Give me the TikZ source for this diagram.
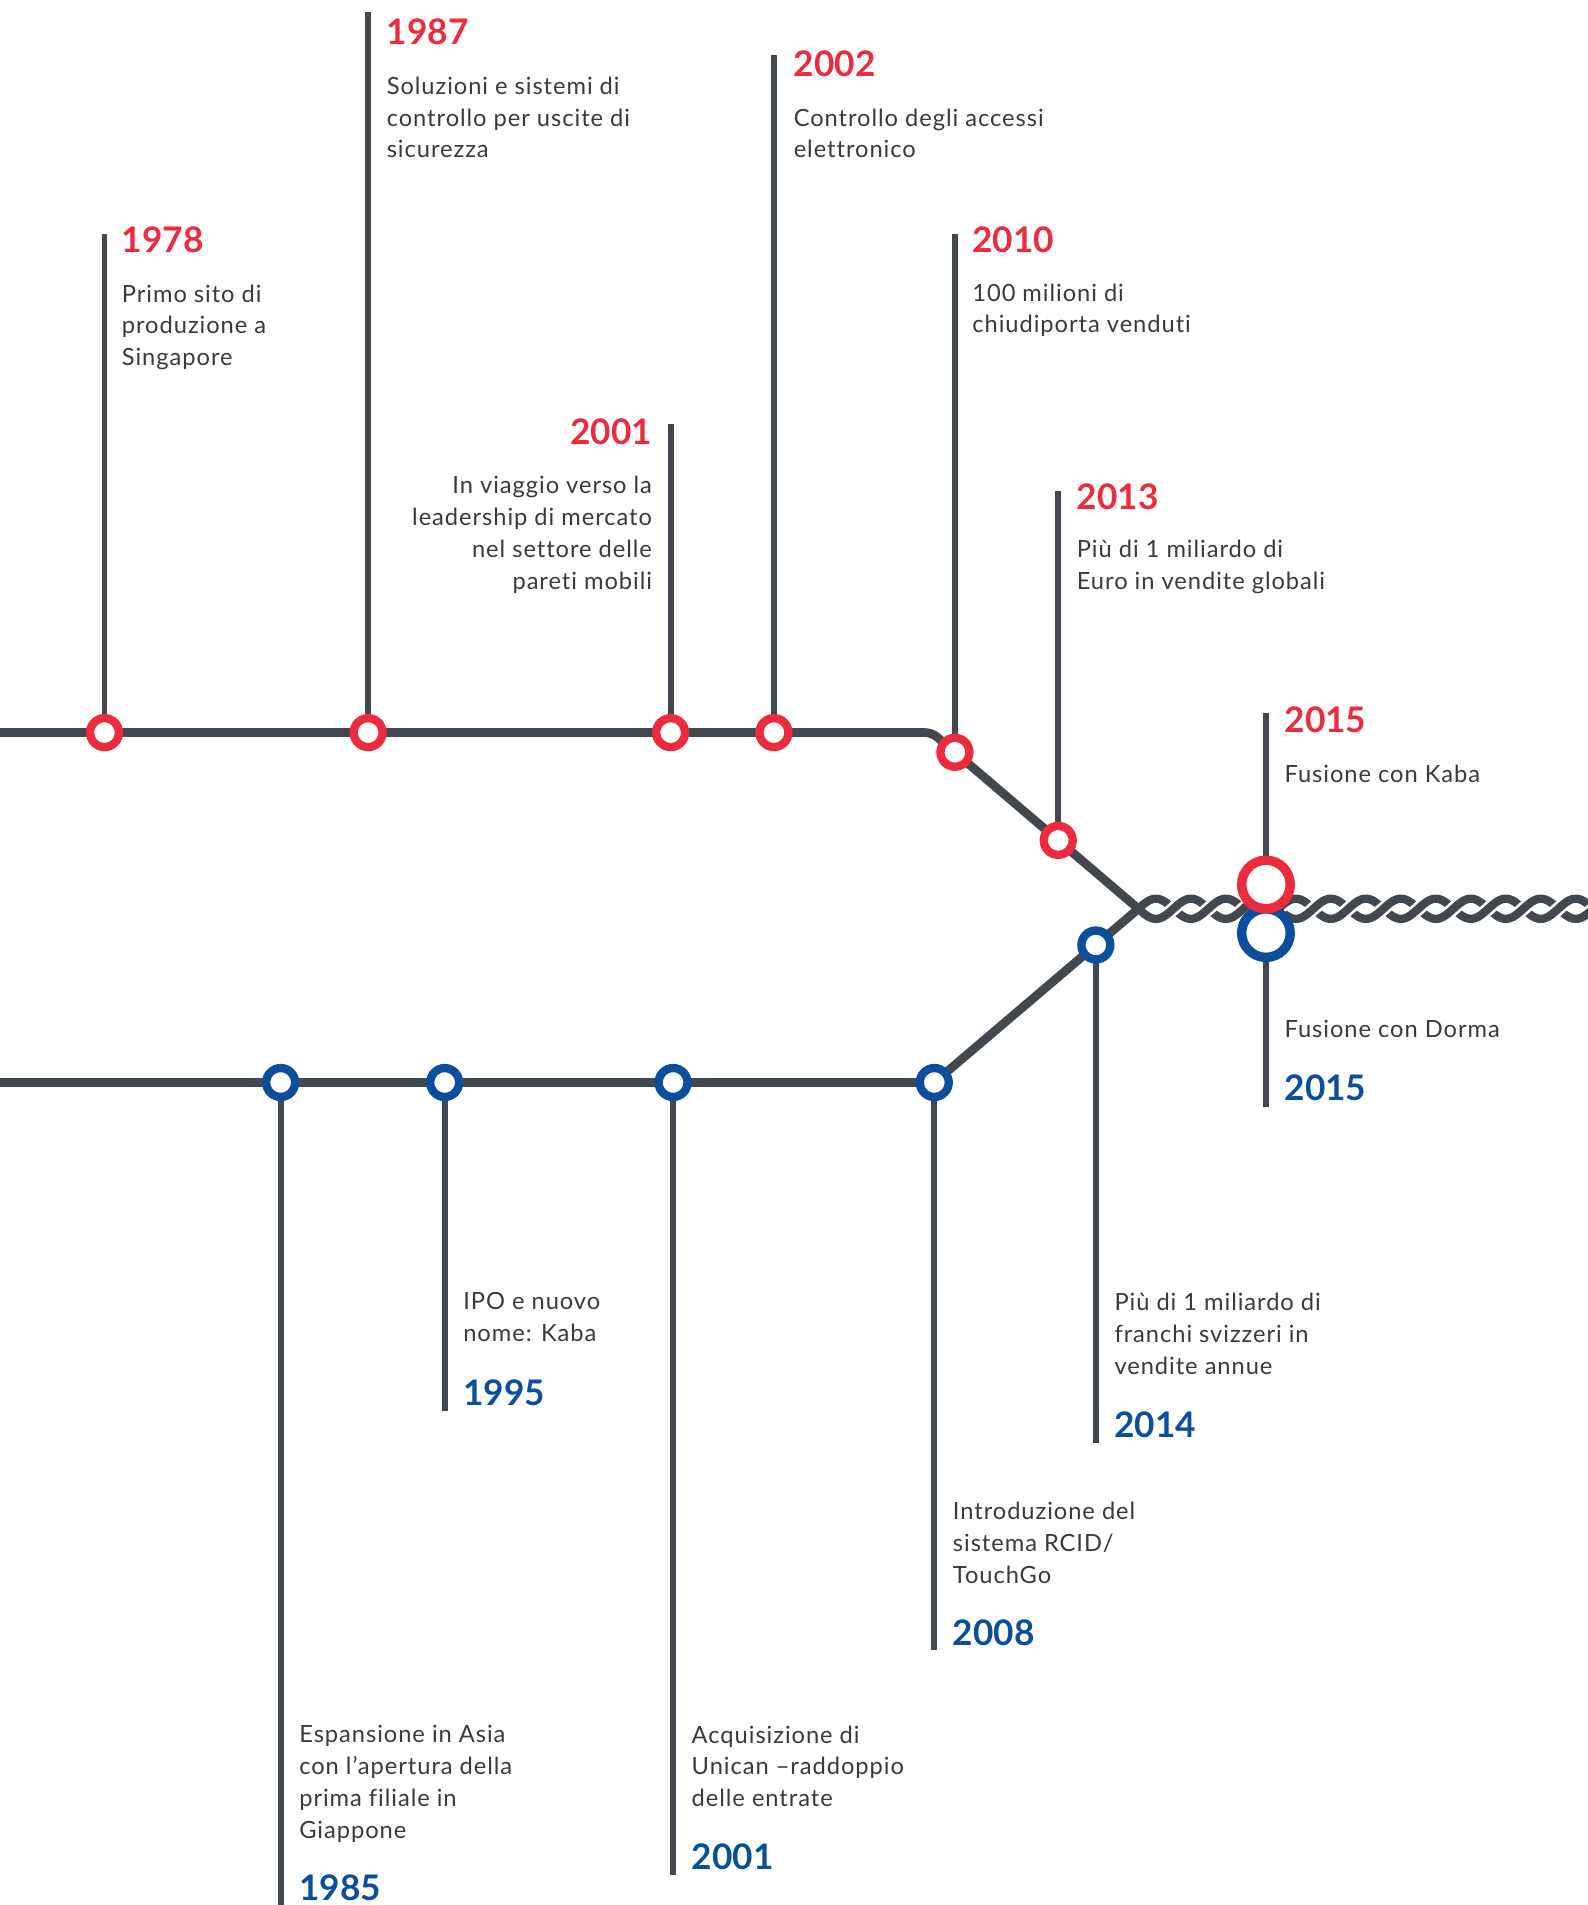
\documentclass[tikz,border=0pt]{standalone}
\usepackage{fontspec}
\setmainfont{Lato}
\newfontfamily\descfont{Lato}[LetterSpace=4, Ligatures=NoCommon]
\usetikzlibrary{backgrounds}

\definecolor{kred}{HTML}{EC2B3E}
\definecolor{kblue}{HTML}{0B4F9C}
\definecolor{kgray}{HTML}{42484D}
\definecolor{ktext}{HTML}{3A3A3A}

\tikzset{
  mainline/.style={kgray, line width=4.1pt},
  stem/.style={kgray, line width=2.7pt},
  dotred/.style={circle, draw=kred, fill=white, line width=3.9pt, minimum size=0.476cm, inner sep=0pt},
  dotblue/.style={dotred, draw=kblue},
  bigred/.style={dotred, line width=4.4pt, minimum size=0.8cm},
  bigblue/.style={bigred, draw=kblue},
  yearred/.style={text=kred, font=\fontsize{16.5}{18}\selectfont\bfseries, inner sep=0pt, anchor=base west},
  yearblue/.style={yearred, text=kblue},
  % base of a multi-line node = baseline of its last line
  desc/.style={text=ktext, font=\descfont\fontsize{11.1}{14.9}\selectfont, align=left, inner sep=0pt, anchor=base west},
  rope/.style={kgray, line width=3.9pt},
}

\begin{document}
\begin{tikzpicture}[x=0.02cm, y=-0.02cm]
    \useasboundingbox (0,0) rectangle (1307,1568);
    \clip (0,0) rectangle (1307,1568);

    % stations on the top line
    \node[dotred] (d1978) at (86,603) {};
    \node[dotred] (d1987) at (303,603) {};
    \node[dotred] (d2001a) at (552,603) {};
    \node[dotred] (d2002) at (637,603) {};
    \node[dotred] (d2010) at (786,619.2) {};
    \node[dotred] (d2013) at (871,691.7) {};
    % stations on the bottom line
    \node[dotblue] (d1985) at (231,891) {};
    \node[dotblue] (d1995) at (366,891) {};
    \node[dotblue] (d2001b) at (554,891) {};
    \node[dotblue] (d2008) at (769,891) {};
    \node[dotblue] (d2014) at (902,777.8) {};
    % merger
    \node[bigblue] (d2015b) at (1042,768) {};
    \node[bigred] (d2015a) at (1042,728) {};

    \coordinate (tstart) at (0,603);
    \coordinate (tbend) at (767,603);
    \coordinate (bstart) at (0,891);
    \coordinate (join) at (937,748);

    \coordinate (t1978) at (86,193);
    \coordinate (t1987) at (303,10);
    \coordinate (t2001a) at (552,349);
    \coordinate (t2002) at (637,45);
    \coordinate (t2010) at (786,193);
    \coordinate (t2013) at (871,404);
    \coordinate (t2015a) at (1042,587);
    \coordinate (t1985) at (231,1570);
    \coordinate (t1995) at (366,1161);
    \coordinate (t2001b) at (554,1543);
    \coordinate (t2008) at (769,1358);
    \coordinate (t2014) at (902,1188);
    \coordinate (t2015b) at (1042,911);

    \begin{scope}[on background layer]
    \foreach \n in {1978,1987,2001a,2002,2010,2013,2015a,1985,1995,2001b,2008,2014,2015b}
        \draw[stem] (d\n.center) -- (t\n);
    \draw[mainline, rounded corners=3pt] (tstart) -- (tbend) -- (join);
    \draw[mainline] (bstart) -- (d2008.center) -- (join);
    % twisted rope after the merger
    \draw[rope] plot[domain=937:1320, samples=300] (\x,{748+8.3*sin((\x-937)*6.25)});
    \draw[rope] plot[domain=937:1320, samples=300] (\x,{748-8.3*sin((\x-937)*6.25)});
    \foreach \k in {1,...,13} {
        \pgfmathsetmacro\xa{937+\k*28.8-8}
        \pgfmathsetmacro\xb{937+\k*28.8+8}
        \pgfmathsetmacro\sg{2*mod(\k,2)-1}
        \draw[white, line width=6.4pt] plot[domain=\xa:\xb, samples=20] (\x,{748+\sg*8.3*sin((\x-937)*6.25)});
        \draw[rope] plot[domain=\xa-0.5:\xb+0.5, samples=20] (\x,{748+\sg*8.3*sin((\x-937)*6.25)});
    }
    \end{scope}

    % top labels
    \node[yearred] (y1978) at (100,208) {1978};
    \node[desc] (x1978) at (100,301) {Primo sito di\\produzione a\\Singapore};
    \node[yearred] (y1987) at (318,37) {1987};
    \node[desc] (x1987) at (318,130) {Soluzioni e sistemi di\\controllo per uscite di\\sicurezza};
    \node[yearred, anchor=base east] (y2001a) at (537,366) {2001};
    \node[desc, anchor=base east, align=right] (x2001a) at (537,485) {In viaggio verso la\\leadership di mercato\\nel settore delle\\pareti mobili};
    \node[yearred] (y2002) at (653,63) {2002};
    \node[desc] (x2002) at (653,130) {Controllo degli accessi\\elettronico};
    \node[yearred] (y2010) at (800,208) {2010};
    \node[desc] (x2010) at (800,274) {100 milioni di\\chiudiporta venduti};
    \node[yearred] (y2013) at (886,419) {2013};
    \node[desc] (x2013) at (886,485) {Più di 1 miliardo di\\Euro in vendite globali};
    \node[yearred] (y2015a) at (1057,603) {2015};
    \node[desc] (x2015a) at (1057,644) {Fusione con Kaba};

    % bottom labels
    \node[desc] (x1985) at (246,1513) {Espansione in Asia\\con l’apertura della\\prima filiale in\\Giappone};
    \node[yearblue] (y1985) at (246,1564) {1985};
    \node[desc] (x1995) at (381,1104) {IPO e nuovo\\nome: Kaba};
    \node[yearblue] (y1995) at (381,1157) {1995};
    \node[desc] (x2001b) at (569,1487) {Acquisizione di\\Unican –raddoppio\\delle entrate};
    \node[yearblue] (y2001b) at (569,1539) {2001};
    \node[desc] (x2008) at (784,1303) {Introduzione del\\sistema RCID/\\TouchGo};
    \node[yearblue] (y2008) at (784,1354) {2008};
    \node[desc] (x2014) at (917,1131) {Più di 1 miliardo di\\franchi svizzeri in\\vendite annue};
    \node[yearblue] (y2014) at (917,1183) {2014};
    \node[desc] (x2015b) at (1057,854) {Fusione con Dorma};
    \node[yearblue] (y2015b) at (1057,906) {2015};
\end{tikzpicture}
\end{document}
